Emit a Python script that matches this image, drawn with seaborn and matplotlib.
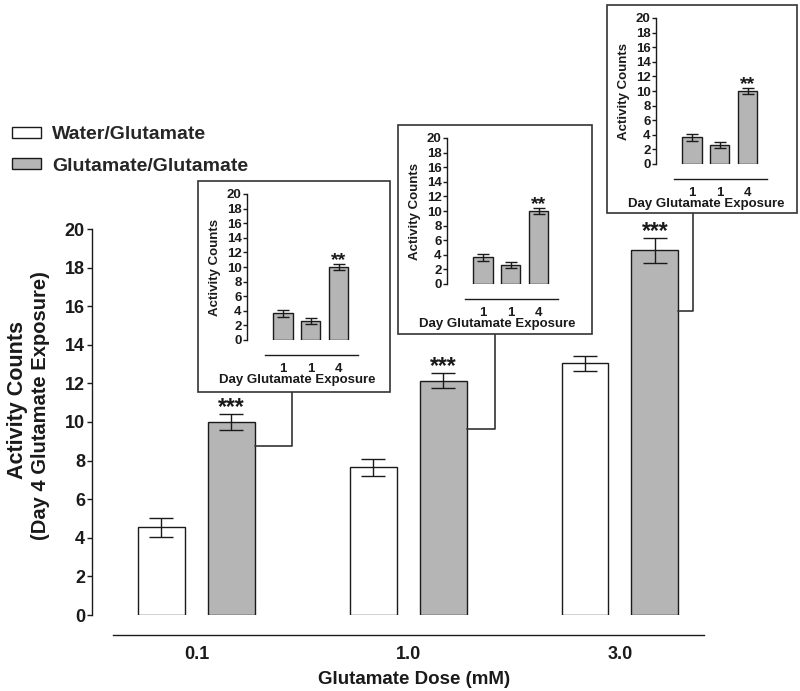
import matplotlib
matplotlib.use('Agg')
import matplotlib.pyplot as plt
import seaborn as sns
import pandas as pd
from matplotlib.patches import Rectangle, Patch
from matplotlib.lines import Line2D

# ---------------- data ----------------
doses = ['0.1', '1.0', '3.0']
groups = ['Water/Glutamate', 'Glutamate/Glutamate']
water_mean = [4.55, 7.65, 13.05]
water_sem = [0.50, 0.43, 0.39]
glu_mean = [10.0, 12.15, 18.9]
glu_sem = [0.42, 0.38, 0.65]
glu_stars = ['***', '***', '***']

inset_days = ['1', '1', '4']
inset_mean = [3.65, 2.55, 10.0]
inset_sem = [0.45, 0.40, 0.35]
inset_stars = ['', '', '**']

y_ticks = list(range(0, 21, 2))

# ---------------- layout helpers ----------------
W, H = 800, 691
def fx(x):
    return x / W
def fy(y):
    return 1 - y / H
def pt(px):
    return px * 72 / 100

sns.set_theme(style='ticks')
plt.rcParams['font.family'] = ['Liberation Sans', 'DejaVu Sans']
plt.rcParams['font.weight'] = 'bold'
plt.rcParams['axes.labelweight'] = 'bold'

INK = '#1a1a1a'
GRAY = '#b5b5b5'

fig = plt.figure(figsize=(8, 6.91), dpi=100)

# ---------------- main axes ----------------
ax = fig.add_axes([fx(92), fy(615), fx(704) - fx(92), fy(229) - fy(615)])
ax.set_zorder(0)
df = pd.DataFrame({
    'dose': doses * 2,
    'group': [groups[0]] * 3 + [groups[1]] * 3,
    'mean': water_mean + glu_mean,
})
palette = {groups[0]: 'white', groups[1]: GRAY}
sns.barplot(data=df, x='dose', y='mean', hue='group', order=doses,
            hue_order=groups, palette=palette, width=0.661, gap=0.33,
            errorbar=None, edgecolor=INK, linewidth=1.0, legend=False,
            saturation=1, ax=ax)

for cont, means, sems in zip(ax.containers, [water_mean, glu_mean], [water_sem, glu_sem]):
    xs = [b.get_x() + b.get_width() / 2 for b in cont]
    ax.errorbar(xs, means, yerr=sems, fmt='none', ecolor=INK, elinewidth=1.0,
                capsize=pt(12), capthick=1.0, zorder=5)

for b, m, s, st in zip(ax.containers[1], glu_mean, glu_sem, glu_stars):
    ax.annotate(st, (b.get_x() + b.get_width() / 2, m + s), xytext=(0, -3.5),
                textcoords='offset points', ha='center', va='bottom',
                fontsize=16.5, fontweight='bold', color=INK, annotation_clip=False)

ax.set_xlim(-0.4935, 2.397)
ax.set_ylim(0, 20)
ax.set_yticks(y_ticks)
ax.set_xlabel('')
ax.set_ylabel('')
sns.despine(ax=ax, offset={'bottom': pt(20)})
ax.spines['bottom'].set_bounds(-0.394, 2.397)
ax.spines['left'].set_bounds(0, 20)
for sp in ('left', 'bottom'):
    ax.spines[sp].set_color(INK)
    ax.spines[sp].set_linewidth(1.0)
ax.tick_params(axis='y', length=pt(5), width=1.0, direction='out', labelsize=13,
               pad=1.5, colors=INK)
ax.tick_params(axis='x', length=0, pad=8, labelsize=13, colors=INK)
ax.patch.set_alpha(0)

fig.text(fx(18), fy(400), 'Activity Counts', rotation=90, ha='center', va='center',
         fontsize=15.5, fontweight='bold', color=INK)
fig.text(fx(41), fy(406), '(Day 4 Glutamate Exposure)', rotation=90, ha='center',
         va='center', fontsize=14.5, fontweight='bold', color=INK)
fig.text(fx(414), fy(679), 'Glutamate Dose (mM)', ha='center', va='center',
         fontsize=13.5, fontweight='bold', color=INK)

handles = [Patch(facecolor=palette[g], edgecolor=INK, linewidth=1.0) for g in groups]
fig.legend(handles, groups, loc='upper left', bbox_to_anchor=(fx(12), fy(126)),
           frameon=False, prop={'weight': 'bold', 'size': 14},
           handlelength=1.5, handleheight=0.5, handletextpad=0.57,
           labelspacing=0.76, borderaxespad=0, borderpad=0)

# ---------------- insets ----------------
boxes = [(198, 181, 390, 392), (398, 125, 592, 334), (607, 5, 797, 213)]
conn_y = [446, 429, 311]
conn_x = [292, 495, 693]

to_fig = fig.transFigure.inverted()
for i, (x0, y0, x1, y1) in enumerate(boxes):
    rect = Rectangle((fx(x0), fy(y1)), fx(x1) - fx(x0), fy(y0) - fy(y1),
                     transform=fig.transFigure, facecolor='white',
                     edgecolor='#333333', linewidth=1.2, zorder=3)
    fig.add_artist(rect)

    # connector from gray bar to the box
    b = ax.containers[1][i]
    bx_disp = ax.transData.transform((b.get_x() + b.get_width(), 0))
    bx = to_fig.transform(bx_disp)[0]
    fig.add_artist(Line2D([bx, fx(conn_x[i]), fx(conn_x[i])],
                          [fy(conn_y[i]), fy(conn_y[i]), fy(y1)],
                          transform=fig.transFigure, color='#333333',
                          linewidth=1.2, zorder=2))

    iax = fig.add_axes([fx(x0 + 49), fy(y0 + 159), fx(111), fy(y0 + 13) - fy(y0 + 159)])
    iax.set_zorder(4)
    sns.barplot(x=list(range(len(inset_mean))), y=inset_mean, color=GRAY,
                saturation=1, width=0.68, edgecolor=INK, linewidth=1.0,
                errorbar=None, ax=iax)
    xs = [p.get_x() + p.get_width() / 2 for p in iax.containers[0]]
    iax.errorbar(xs, inset_mean, yerr=inset_sem, fmt='none', ecolor=INK,
                 elinewidth=1.0, capsize=pt(6), capthick=1.0, zorder=5)
    for xx, m, s, st in zip(xs, inset_mean, inset_sem, inset_stars):
        if st:
            iax.annotate(st, (xx, m + s), xytext=(0, -3), textcoords='offset points',
                         ha='center', va='bottom', fontsize=14, fontweight='bold',
                         color=INK, annotation_clip=False)
    iax.set_xlim(-1.286, 2.68)
    iax.set_ylim(0, 20)
    iax.set_yticks(y_ticks)
    iax.set_xticks(range(len(inset_days)))
    iax.set_xticklabels(inset_days)
    sns.despine(ax=iax, offset={'bottom': pt(15)})
    iax.spines['bottom'].set_bounds(-0.643, 2.68)
    iax.spines['left'].set_bounds(0, 20)
    for sp in ('left', 'bottom'):
        iax.spines[sp].set_color(INK)
        iax.spines[sp].set_linewidth(1.0)
    iax.tick_params(axis='y', length=pt(4), width=1.0, labelsize=9.5, pad=1, colors=INK)
    iax.tick_params(axis='x', length=0, pad=6, labelsize=9.5, colors=INK)
    iax.set_ylabel('Activity Counts', fontsize=9.5, fontweight='bold', labelpad=4, color=INK)
    iax.set_xlabel('Day Glutamate Exposure', fontsize=9.5, fontweight='bold', labelpad=-1, color=INK)
    iax.xaxis.label.set_x(0.45)
    iax.patch.set_alpha(0)

fig.savefig('out.png', dpi=100)
